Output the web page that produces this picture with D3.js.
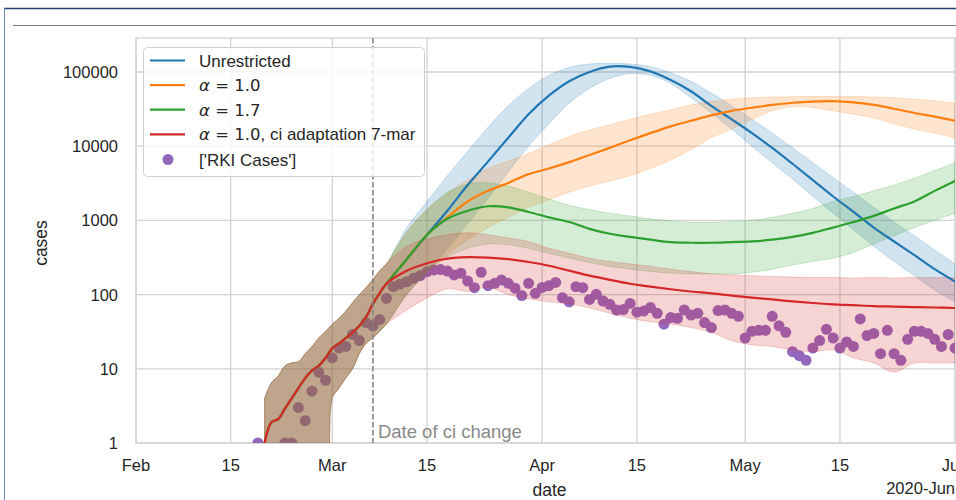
<!DOCTYPE html>
<html>
<head>
<meta charset="utf-8">
<script src="https://cdn.jsdelivr.net/npm/d3@7"></script>
<style>
  body { margin: 0; background: #fff; }
  text { font-family: "Liberation Sans", Arial, sans-serif; fill: #262626; }
</style>
</head>
<body>
<script>
var width = 956,
    height = 500;

// shared history of all model runs (daily, 20 Feb - 8 Mar)
var earlyDates = ['2020-02-20','2020-02-21','2020-02-22','2020-02-23','2020-02-24','2020-02-25',
  '2020-02-26','2020-02-27','2020-02-28','2020-02-29','2020-03-01','2020-03-02','2020-03-03',
  '2020-03-04','2020-03-05','2020-03-06','2020-03-07','2020-03-08'];
var earlyMid = [1, 1.9, 2.1, 2.9, 4, 5.5, 7.5, 9.5, 11, 14, 19, 22, 26, 31, 38, 50, 75, 105];
var earlyHi  = [4, 6.5, 8, 11, 12, 12.5, 16, 20, 26, 32, 40, 48, 60, 78, 100, 125, 160, 210];
var earlyLo  = [0.3, 0.3, 0.3, 0.3, 0.3, 0.3, 0.3, 0.3, 0.3, 0.3, 4, 5.5, 7.5, 10, 16, 22, 26, 32];

// model runs from 9 Mar on
var modelDates = ['2020-03-09','2020-03-12','2020-03-15','2020-03-18','2020-03-21','2020-03-24',
  '2020-03-27','2020-03-30','2020-04-02','2020-04-05','2020-04-08','2020-04-11','2020-04-14',
  '2020-04-17','2020-04-20','2020-04-23','2020-04-26','2020-04-29','2020-05-02','2020-05-05',
  '2020-05-08','2020-05-11','2020-05-14','2020-05-17','2020-05-20','2020-05-23','2020-05-26',
  '2020-05-29','2020-06-01'];

var blueMid = [140, 300, 640, 1350, 3000, 6200, 13000, 27000, 48000, 75000, 100000, 118000, 117000,
  102000, 78000, 55000, 35000, 23000, 15000, 9500, 5800, 3500, 2100, 1300, 800, 520, 340, 220, 150];
var blueHi = [260, 800, 1800, 4000, 8500, 18000, 35000, 60000, 90000, 115000, 128000, 131000, 128000,
  118000, 98000, 75000, 52000, 35000, 23000, 15000, 9500, 6000, 3800, 2400, 1500, 950, 620, 400, 260];
var blueLo = [40, 100, 200, 420, 900, 2000, 4500, 10000, 20000, 38000, 60000, 82000, 95000,
  90000, 70000, 45000, 28000, 17000, 10000, 6000, 3600, 2100, 1250, 750, 450, 280, 180, 115, 80];

var orangeMid = [140, 300, 640, 1100, 1800, 2500, 3200, 4200, 5000, 6100, 7600, 9500, 12000,
  15000, 18500, 22000, 26000, 30000, 33000, 36000, 38500, 40000, 40500, 39000, 36000, 32000, 28000, 25000, 22000];
var orangeHi = [260, 700, 1400, 2300, 3500, 5000, 6300, 8000, 10500, 13500, 16500, 19500, 23000,
  27000, 31000, 36000, 40000, 43000, 45000, 46000, 46500, 47000, 47000, 47000, 46000, 45000, 43000, 41000, 38000];
var orangeLo = [40, 100, 200, 350, 550, 800, 1100, 1500, 1900, 2400, 2900, 3400, 4000,
  5000, 6500, 9000, 13000, 17000, 23000, 30000, 34000, 33000, 30000, 27000, 24000, 20000, 17000, 15000, 13000];

var greenMid = [140, 300, 640, 1050, 1350, 1550, 1500, 1300, 1100, 950, 770, 660, 600,
  550, 510, 500, 500, 510, 520, 550, 600, 680, 800, 950, 1150, 1450, 1800, 2500, 3400];
var greenHi = [260, 700, 1400, 2400, 3100, 3200, 2900, 2400, 1950, 1600, 1400, 1250, 1150,
  1050, 980, 950, 950, 970, 1000, 1100, 1250, 1450, 1800, 2100, 2500, 3000, 3700, 4700, 6000];
var greenLo = [40, 100, 200, 320, 420, 480, 470, 420, 360, 310, 270, 240, 220,
  205, 195, 190, 190, 190, 200, 220, 250, 280, 310, 370, 480, 620, 800, 1000, 1250];

var redMid = [140, 210, 265, 305, 320, 315, 300, 275, 245, 210, 180, 158, 140,
  128, 118, 110, 104, 97, 91, 86, 81, 77, 74, 72, 70, 69, 68, 67, 66];
var redHi = [260, 450, 560, 640, 680, 640, 580, 520, 420, 360, 310, 280, 260,
  240, 220, 205, 190, 185, 180, 175, 172, 170, 170, 168, 170, 168, 170, 170, 170];
var redLo = [40, 62, 90, 120, 110, 125, 100, 88, 80, 75, 66, 56, 48,
  43, 40, 36, 31, 24, 21, 20, 18, 17, 18, 14, 12, 9, 12, 12, 12];

// RKI daily cases from 19 Feb (null = no case reported)
var rkiStart = '2020-02-19';
var rkiCases = [1, null, null, null, 1, 1, 3, 2, 5, 9, 7, 14, 19, 20, 29, 24, 42, 38, 46, 89,
  128, 138, 149, 166, 180, 204, 215, 218, 208, 184, 194, 152, 124, 200, 132, 142, 157, 142, 122, 97,
  142, 104, 125, 132, 146, 91, 80, 128, 124, 86, 101, 82, 74, 62, 63, 76, 58, 60, 67, 56,
  40, 49, 48, 62, 53, 56, 42, 36, 61, 62, 56, 51, 26, 32, 33, 33, 51, 38, 31, 17,
  15, 13, 19, 24, 34, 26, 19, 23, 20, 47, 28, 30, 16, 33, 16, 13, 25, 32, 32, 30,
  25, 20, 29, 19];

var xTickDates = ['2020-02-01','2020-02-15','2020-03-01','2020-03-15','2020-04-01','2020-04-15',
  '2020-05-01','2020-05-15','2020-06-01'];
var xTickLabels = ['Feb', '15', 'Mar', '15', 'Apr', '15', 'May', '15', 'Jun'];
var yTicks = [1, 10, 100, 1000, 10000, 100000];
var ciChangeDate = '2020-03-07';

var parse = d3.timeParse('%Y-%m-%d');

var plot = {left: 136, right: 955, top: 38, bottom: 443};

var x = d3.scaleTime()
  .domain([parse('2020-02-01'), parse('2020-06-01')])
  .range([plot.left, plot.right]);

var y = d3.scaleLog()
  .domain([1, 100000])
  .range([plot.bottom, 72]);

var svg = d3.select('body')
  .append('svg')
  .attr('width', width)
  .attr('height', height);

// page frame
svg.append('line').attr('x1', 4).attr('x2', width).attr('y1', 8.5).attr('y2', 8.5)
  .attr('stroke', '#1f3f6e').attr('stroke-width', 1.5);
svg.append('line').attr('x1', 4.5).attr('x2', 4.5).attr('y1', 8).attr('y2', height)
  .attr('stroke', '#6d89b0').attr('stroke-width', 1);
svg.append('line').attr('x1', 13).attr('x2', width).attr('y1', 25.5).attr('y2', 25.5)
  .attr('stroke', '#7a7a7a').attr('stroke-width', 1);

svg.append('clipPath').attr('id', 'plotclip')
  .append('rect')
  .attr('x', plot.left).attr('y', plot.top)
  .attr('width', plot.right - plot.left).attr('height', plot.bottom - plot.top);

// grid
var grid = svg.append('g').attr('id', 'grid');
grid.selectAll('line.v')
  .data(xTickDates)
  .enter()
  .append('line')
  .attr('x1', function(d) { return x(parse(d)); })
  .attr('x2', function(d) { return x(parse(d)); })
  .attr('y1', plot.top).attr('y2', plot.bottom)
  .attr('stroke', '#d3d3d3').attr('stroke-width', 1.3);
grid.selectAll('line.h')
  .data(yTicks)
  .enter()
  .append('line')
  .attr('x1', plot.left).attr('x2', plot.right)
  .attr('y1', function(d) { return y(d); })
  .attr('y2', function(d) { return y(d); })
  .attr('stroke', '#d3d3d3').attr('stroke-width', 1.3);
svg.append('rect')
  .attr('x', plot.left).attr('y', plot.top)
  .attr('width', plot.right - plot.left).attr('height', plot.bottom - plot.top)
  .attr('fill', 'none').attr('stroke', '#d3d3d3').attr('stroke-width', 1.3);

var chart = svg.append('g').attr('clip-path', 'url(#plotclip)');

// RKI dots (drawn below the bands, as in the original)
var rki = rkiCases.map(function(v, i) {
  return {date: d3.timeDay.offset(parse(rkiStart), i), value: v};
}).filter(function(d) { return d.value != null; });

chart.append('g').attr('id', 'rki')
  .selectAll('circle')
  .data(rki)
  .enter()
  .append('circle')
  .attr('cx', function(d) { return x(d.date); })
  .attr('cy', function(d) { return y(d.value); })
  .attr('r', 5.5)
  .attr('fill', '#9467bd');

function buildSeries(mid, hi, lo) {
  var dates = earlyDates.concat(modelDates);
  var m = earlyMid.concat(mid), h = earlyHi.concat(hi), l = earlyLo.concat(lo);
  return dates.map(function(d, i) {
    return {date: parse(d), mid: m[i], hi: h[i], lo: l[i]};
  });
}

var models = [
  {name: 'Unrestricted', color: '#1f77b4', data: buildSeries(blueMid, blueHi, blueLo)},
  {name: 'a10', color: '#ff7f0e', data: buildSeries(orangeMid, orangeHi, orangeLo)},
  {name: 'a17', color: '#2ca02c', data: buildSeries(greenMid, greenHi, greenLo)},
  {name: 'a10ci', color: '#d62728', data: buildSeries(redMid, redHi, redLo)}
];

var curve = d3.curveCatmullRom.alpha(0.5);

var area = d3.area()
  .curve(curve)
  .x(function(d) { return x(d.date); })
  .y0(function(d) { return y(d.lo); })
  .y1(function(d) { return y(d.hi); });

var line = d3.line()
  .curve(curve)
  .x(function(d) { return x(d.date); })
  .y(function(d) { return y(d.mid); });

chart.append('g').attr('id', 'bands')
  .selectAll('path')
  .data(models)
  .enter()
  .append('path')
  .attr('d', function(d) { return area(d.data); })
  .attr('fill', function(d) { return d.color; })
  .attr('fill-opacity', 0.2)
  .attr('stroke', function(d) { return d.color; })
  .attr('stroke-opacity', 0.2)
  .attr('stroke-width', 1);

chart.append('g').attr('id', 'lines')
  .selectAll('path')
  .data(models)
  .enter()
  .append('path')
  .attr('d', function(d) { return line(d.data); })
  .attr('fill', 'none')
  .attr('stroke', function(d) { return d.color; })
  .attr('stroke-width', 2.2);

// date of ci change
svg.append('line')
  .attr('x1', x(parse(ciChangeDate))).attr('x2', x(parse(ciChangeDate)))
  .attr('y1', plot.top).attr('y2', plot.bottom)
  .attr('stroke', '#808080').attr('stroke-width', 1.5)
  .attr('stroke-dasharray', '5.5,2.5');
svg.append('text')
  .attr('x', x(parse(ciChangeDate)) + 5).attr('y', 438)
  .style('font-size', '18.5px').style('fill', '#8a8a8a')
  .text('Date of ci change');

// axes labels
svg.selectAll('text.ytick')
  .data(yTicks)
  .enter()
  .append('text')
  .attr('x', 118)
  .attr('y', function(d) { return y(d) + 6; })
  .attr('text-anchor', 'end')
  .style('font-size', '16.5px')
  .text(function(d) { return d; });

svg.selectAll('text.xtick')
  .data(xTickDates)
  .enter()
  .append('text')
  .attr('x', function(d) { return x(parse(d)); })
  .attr('y', 471)
  .attr('text-anchor', 'middle')
  .style('font-size', '16.5px')
  .text(function(d, i) { return xTickLabels[i]; });

svg.append('text')
  .attr('x', (plot.left + plot.right) / 2 + 4).attr('y', 496)
  .attr('text-anchor', 'middle')
  .style('font-size', '17.5px')
  .text('date');

svg.append('text')
  .attr('x', plot.right).attr('y', 494)
  .attr('text-anchor', 'end')
  .style('font-size', '16.5px')
  .text('2020-Jun');

svg.append('text')
  .attr('transform', 'translate(47,243) rotate(-90)')
  .attr('text-anchor', 'middle')
  .style('font-size', '17.5px')
  .text('cases');

// legend
var legend = svg.append('g').attr('id', 'legend');
legend.append('rect')
  .attr('x', 143.5).attr('y', 47.5)
  .attr('width', 281).attr('height', 129)
  .attr('rx', 4)
  .attr('fill', '#fff').attr('fill-opacity', 0.8)
  .attr('stroke', '#d0d0d0');

var legendRows = [
  {color: '#1f77b4', math: null, text: 'Unrestricted'},
  {color: '#ff7f0e', math: '1.0', text: ''},
  {color: '#2ca02c', math: '1.7', text: ''},
  {color: '#d62728', math: '1.0', text: ', ci adaptation 7-mar'}
];

legendRows.forEach(function(r, i) {
  var yy = 60.5 + i * 24.6;
  legend.append('line')
    .attr('x1', 150).attr('x2', 185)
    .attr('y1', yy).attr('y2', yy)
    .attr('stroke', r.color).attr('stroke-width', 2.2);
  var t = legend.append('text')
    .attr('x', 199).attr('y', yy + 6)
    .style('font-size', '17px');
  if (r.math) {
    t.append('tspan')
      .style('font-family', '"DejaVu Sans"').style('font-style', 'italic')
      .style('font-size', '16.5px')
      .text('\u03b1');
    t.append('tspan')
      .style('font-family', '"DejaVu Sans"').style('font-size', '16.5px')
      .text(' = ' + r.math);
  }
  t.append('tspan').text(r.text);
});

legend.append('circle')
  .attr('cx', 168).attr('cy', 159.5)
  .attr('r', 5.5)
  .attr('fill', '#9467bd');
legend.append('text')
  .attr('x', 199).attr('y', 165.5)
  .style('font-size', '17px')
  .text("['RKI Cases']");
</script>
</body>
</html>
